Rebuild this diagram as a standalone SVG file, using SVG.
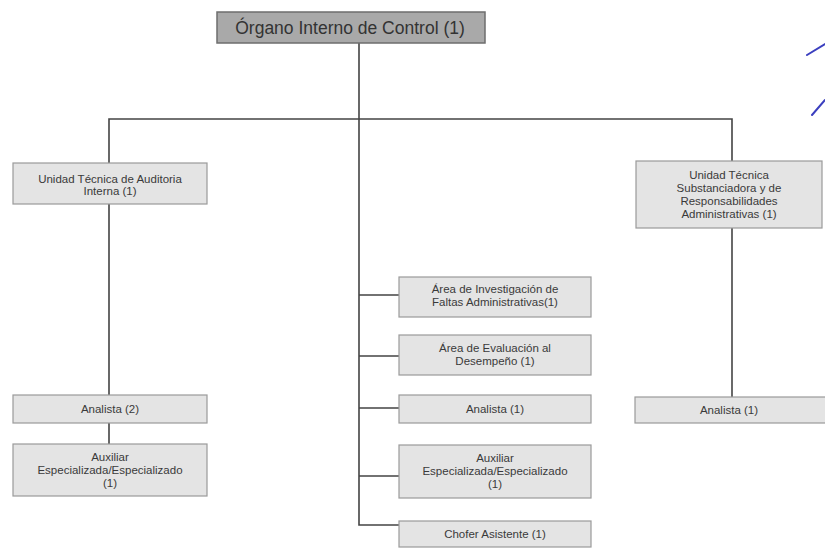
<svg xmlns="http://www.w3.org/2000/svg" width="825" height="551" viewBox="0 0 825 551">
<style>
.box{fill:#e4e4e4;stroke:#9a9a9a;stroke-width:1.2}
.top{fill:#a9a9a9;stroke:#6e6e6e;stroke-width:1.5}
.t{font-family:"Liberation Sans",Arial,sans-serif;font-size:11.5px;fill:#3a3a3a;text-anchor:middle}
.tt{font-family:"Liberation Sans",Arial,sans-serif;font-size:17.5px;fill:#333;text-anchor:middle}
.c{fill:none;stroke:#444;stroke-width:1.6}
.pen{fill:none;stroke:#3b3fbf;stroke-width:2;stroke-linecap:round}
</style>
<rect width="825" height="551" fill="#ffffff"/>
<g id="connectors">
<path class="c" d="M359 43V525H399"/>
<path class="c" d="M109 163V119H732V161"/>
<path class="c" d="M109 203V395M109 423V444"/>
<path class="c" d="M732 228V397"/>
<path class="c" d="M359 295H399M359 356H399M359 408H399M359 476H399"/>
</g>
<g id="n-oic"><rect class="top" x="217" y="12" width="268" height="31"/><text class="tt" x="350" y="34">Órgano Interno de Control (1)</text></g>
<g id="n-utai"><rect class="box" x="13" y="163" width="194" height="41"/><text class="t" x="110" y="183">Unidad Técnica de Auditoria</text><text class="t" x="110" y="195">Interna (1)</text></g>
<g id="n-utsra"><rect class="box" x="636" y="161" width="186" height="67"/><text class="t" x="729" y="179">Unidad Técnica</text><text class="t" x="729" y="192">Substanciadora y de</text><text class="t" x="729" y="205">Responsabilidades</text><text class="t" x="729" y="218">Administrativas (1)</text></g>
<g id="n-aifa"><rect class="box" x="399" y="277" width="192" height="40"/><text class="t" x="495" y="293">Área de Investigación de</text><text class="t" x="495" y="306">Faltas Administrativas(1)</text></g>
<g id="n-aed"><rect class="box" x="399" y="335" width="192" height="40"/><text class="t" x="495" y="352">Área de Evaluación al</text><text class="t" x="495" y="365">Desempeño (1)</text></g>
<g id="n-an2"><rect class="box" x="13" y="395" width="194" height="28"/><text class="t" x="110" y="413">Analista (2)</text></g>
<g id="n-an1c"><rect class="box" x="399" y="395" width="192" height="28"/><text class="t" x="495" y="413">Analista (1)</text></g>
<g id="n-an1r"><rect class="box" x="635" y="397" width="195" height="26"/><text class="t" x="729" y="414">Analista (1)</text></g>
<g id="n-auxl"><rect class="box" x="13" y="444" width="194" height="52"/><text class="t" x="110" y="461">Auxiliar</text><text class="t" x="110" y="474">Especializada/Especializado</text><text class="t" x="110" y="487">(1)</text></g>
<g id="n-auxc"><rect class="box" x="399" y="445" width="192" height="53"/><text class="t" x="495" y="462">Auxiliar</text><text class="t" x="495" y="475">Especializada/Especializado</text><text class="t" x="495" y="488">(1)</text></g>
<g id="n-chofer"><rect class="box" x="399" y="521" width="192" height="26"/><text class="t" x="495" y="538">Chofer Asistente (1)</text></g>
<path class="pen" d="M807 55L825 44"/>
<path class="pen" d="M812 115L825 100"/>
</svg>
